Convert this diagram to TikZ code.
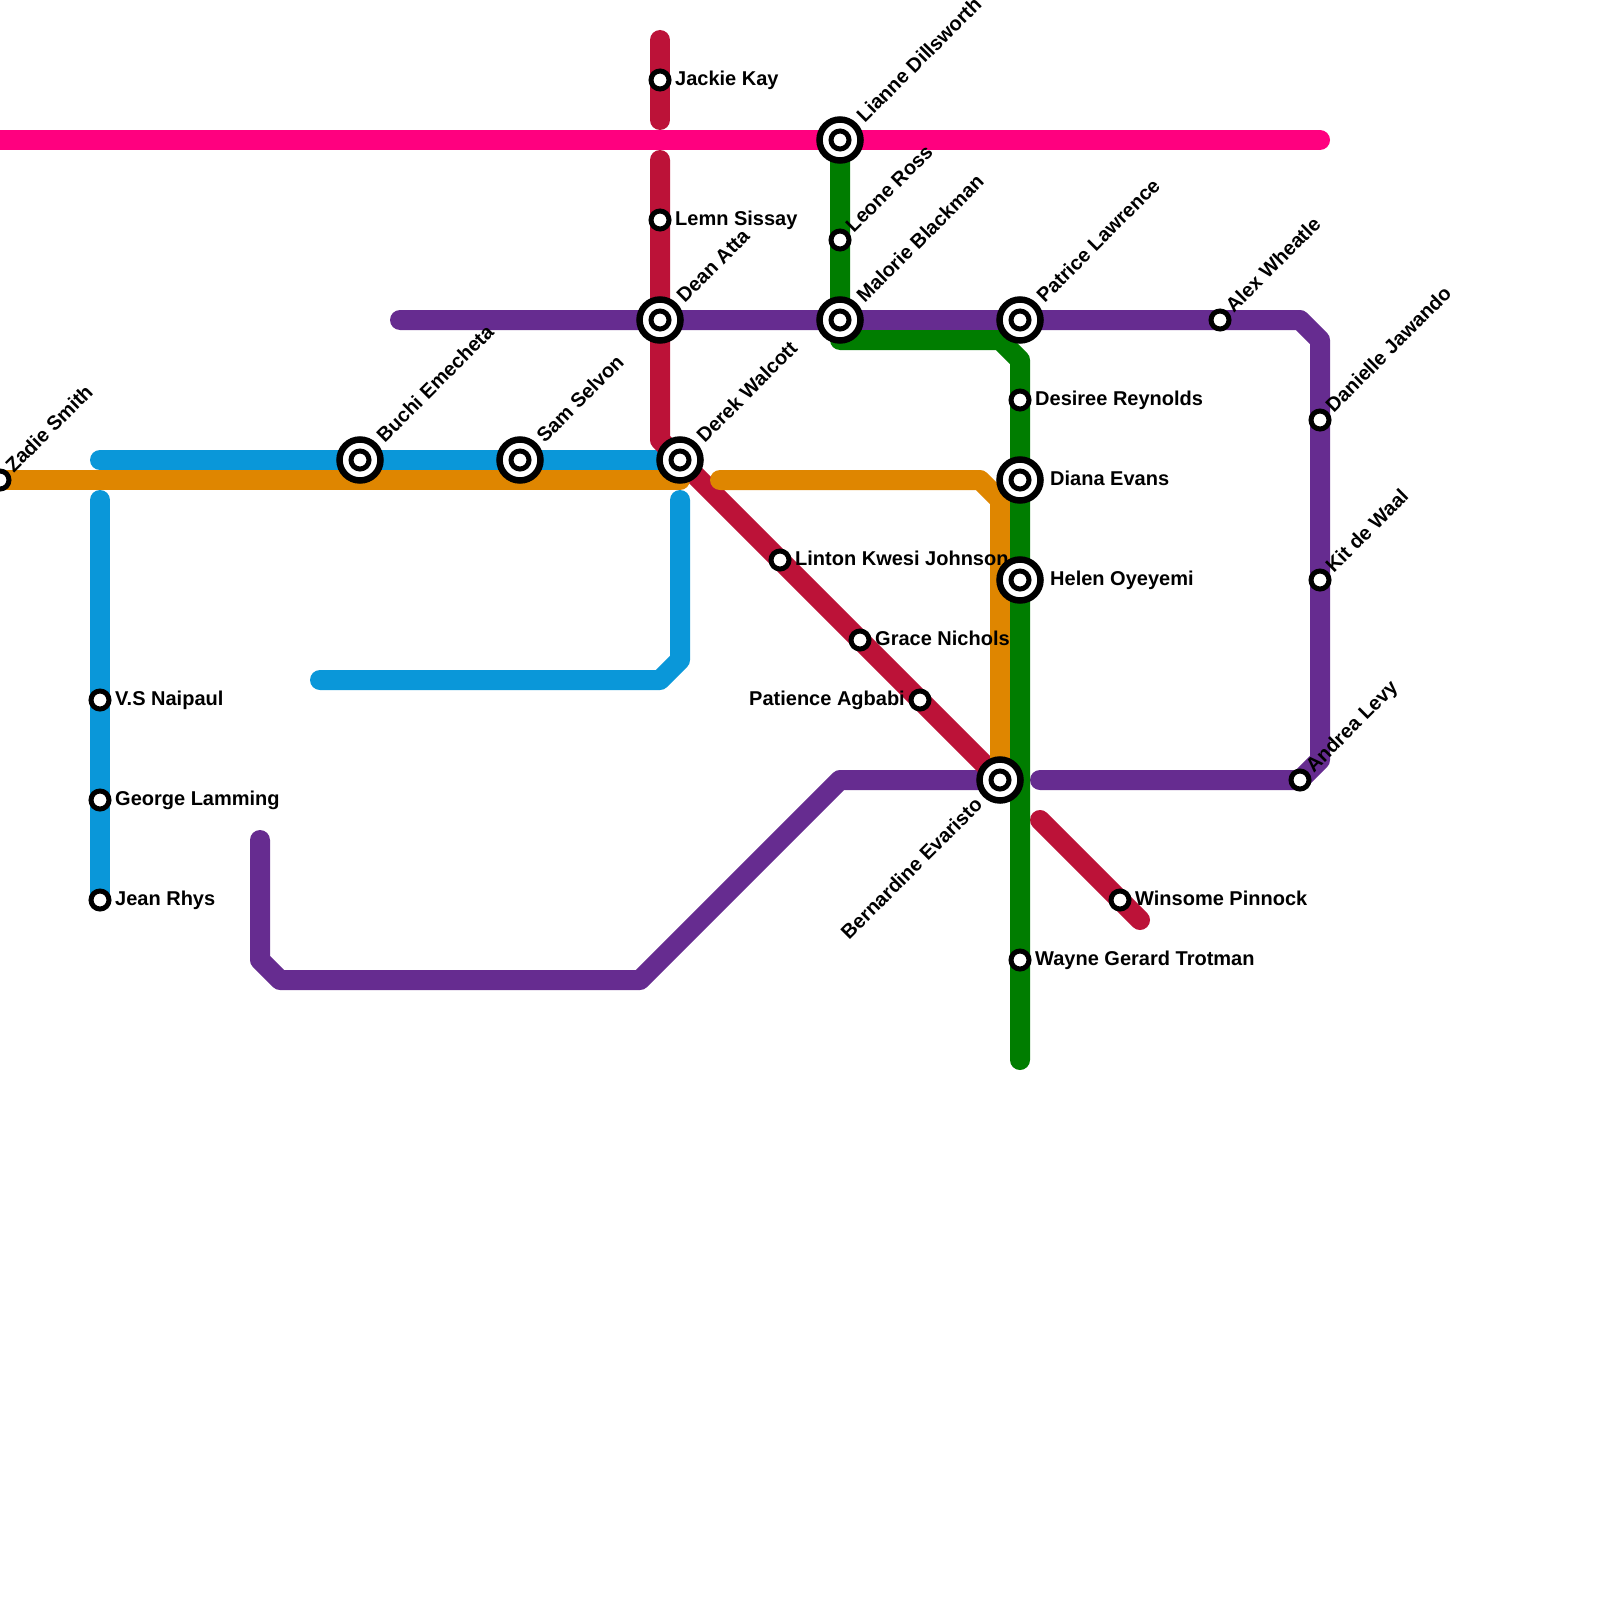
\documentclass[tikz,border=0pt]{standalone}
\usepackage{fontspec}
\setmainfont{Liberation Sans}
\usetikzlibrary{backgrounds}
\definecolor{linepink}{HTML}{FF007F}
\definecolor{linecrimson}{HTML}{BC1238}
\definecolor{linegreen}{HTML}{007D00}
\definecolor{linepurple}{HTML}{662C90}
\definecolor{lineblue}{HTML}{0A97D9}
\definecolor{lineorange}{HTML}{DF8600}
\tikzset{
  metro/.style={line width=20pt,line cap=round,line join=round},
  stop/.style={circle,draw=black,fill=white,line width=5pt,minimum size=18pt,inner sep=0pt},
  bigstop/.style={circle,draw=black,fill=white,line width=6.5pt,minimum size=41pt,inner sep=0pt},
  lbtxt/.style={inner sep=0pt,text height=14.5pt,text depth=4pt,font=\fontsize{20}{22}\bfseries\selectfont},
  lbright/.style={lbtxt,anchor=west},
  lbleft/.style={lbtxt,anchor=east},
  lbup/.style={lbright,rotate=45},
  lbdown/.style={lbleft,rotate=45}
}
\begin{document}
\begin{tikzpicture}[x=1pt,y=-1pt]
  \useasboundingbox (0,0) rectangle (1600,1600);
  % stations and their names
  \foreach \name/\x/\y/\kind/\side/\dx/\dy/\txt in {
    zadie/0/480/stop/lbup/10/-10/Zadie Smith,
    buchi/360/460/bigstop/lbup/21/-20/Buchi Emecheta,
    sam/520/460/bigstop/lbup/21/-20/Sam Selvon,
    naipaul/100/700/stop/lbright/15/0/V.S Naipaul,
    lamming/100/800/stop/lbright/15/0/George Lamming,
    rhys/100/900/stop/lbright/15/0/Jean Rhys,
    kay/660/80/stop/lbright/15/0/Jackie Kay,
    sissay/660/220/stop/lbright/15/0/Lemn Sissay,
    atta/660/320/bigstop/lbup/21/-20/Dean Atta,
    walcott/680/460/bigstop/lbup/21/-20/Derek Walcott,
    johnson/780/560/stop/lbright/15/0/Linton Kwesi Johnson,
    nichols/860/640/stop/lbright/15/0/Grace Nichols,
    agbabi/920/700/stop/lbleft/-15/0/Patience Agbabi,
    evaristo/1000/780/bigstop/lbdown/-20/22/Bernardine Evaristo,
    pinnock/1120/900/stop/lbright/15/0/Winsome Pinnock,
    dillsworth/840/140/bigstop/lbup/21/-20/Lianne Dillsworth,
    ross/840/240/stop/lbup/10/-10/Leone Ross,
    blackman/840/320/bigstop/lbup/21/-20/Malorie Blackman,
    lawrence/1020/320/bigstop/lbup/21/-20/Patrice Lawrence,
    reynolds/1020/400/stop/lbright/15/0/Desiree Reynolds,
    evans/1020/480/bigstop/lbright/30/0/Diana Evans,
    oyeyemi/1020/580/bigstop/lbright/30/0/Helen Oyeyemi,
    trotman/1020/960/stop/lbright/15/0/Wayne Gerard Trotman,
    wheatle/1220/320/stop/lbup/10/-10/Alex Wheatle,
    jawando/1320/420/stop/lbup/10/-10/Danielle Jawando,
    waal/1320/580/stop/lbup/10/-10/Kit de Waal,
    levy/1300/780/stop/lbup/10/-10/Andrea Levy
  }{
    \node[\kind] (\name) at (\x,\y) {};
    \node[\side] (\name-txt) at ([shift={(\dx,\dy)}]\name.center) {\txt};
  }
  \foreach \name in {buchi,sam,atta,walcott,evaristo,dillsworth,blackman,lawrence,evans,oyeyemi}{
    \node[stop] (\name-in) at (\name.center) {};
  }
  % the lines go behind the stations
  \begin{pgfonlayer}{background}
    \draw[metro,lineblue] (100,460) -- (buchi.center) -- (sam.center) -- (walcott.center);
    \draw[metro,lineblue] (100,500) -- (naipaul.center) -- (lamming.center) -- (rhys.center);
    \draw[metro,lineblue] (680,500) -- (680,660) -- (660,680) -- (320,680);
    \draw[metro,linepurple] (400,320) -- (atta.center) -- (blackman.center) -- (lawrence.center) -- (wheatle.center) -- (1300,320) -- (1320,340) -- (jawando.center) -- (waal.center) -- (1320,760) -- (levy.center) -- (1040,780);
    \draw[metro,linepurple] (260,840) -- (260,960) -- (280,980) -- (640,980) -- (840,780) -- (evaristo.center);
    \draw[metro,linecrimson] (660,40) -- (kay.center) -- (660,120);
    \draw[metro,linecrimson] (660,160) -- (sissay.center) -- (atta.center) -- (660,440) -- (walcott.center) -- (johnson.center) -- (nichols.center) -- (agbabi.center) -- (evaristo.center);
    \draw[metro,linecrimson] (1040,820) -- (pinnock.center) -- (1140,920);
    \draw[metro,lineorange] (zadie.center) -- (680,480);
    \draw[metro,lineorange] (720,480) -- (980,480) -- (1000,500) -- (evaristo.center);
    \draw[metro,linegreen] (dillsworth.center) -- (ross.center) -- (blackman.center) -- (840,340) -- (1000,340) -- (1020,360) -- (reynolds.center) -- (evans.center) -- (oyeyemi.center) -- (trotman.center) -- (1020,1060);
    \draw[metro,linepink] (-20,140) -- (dillsworth.center) -- (1320,140);
  \end{pgfonlayer}
\end{tikzpicture}
\end{document}
